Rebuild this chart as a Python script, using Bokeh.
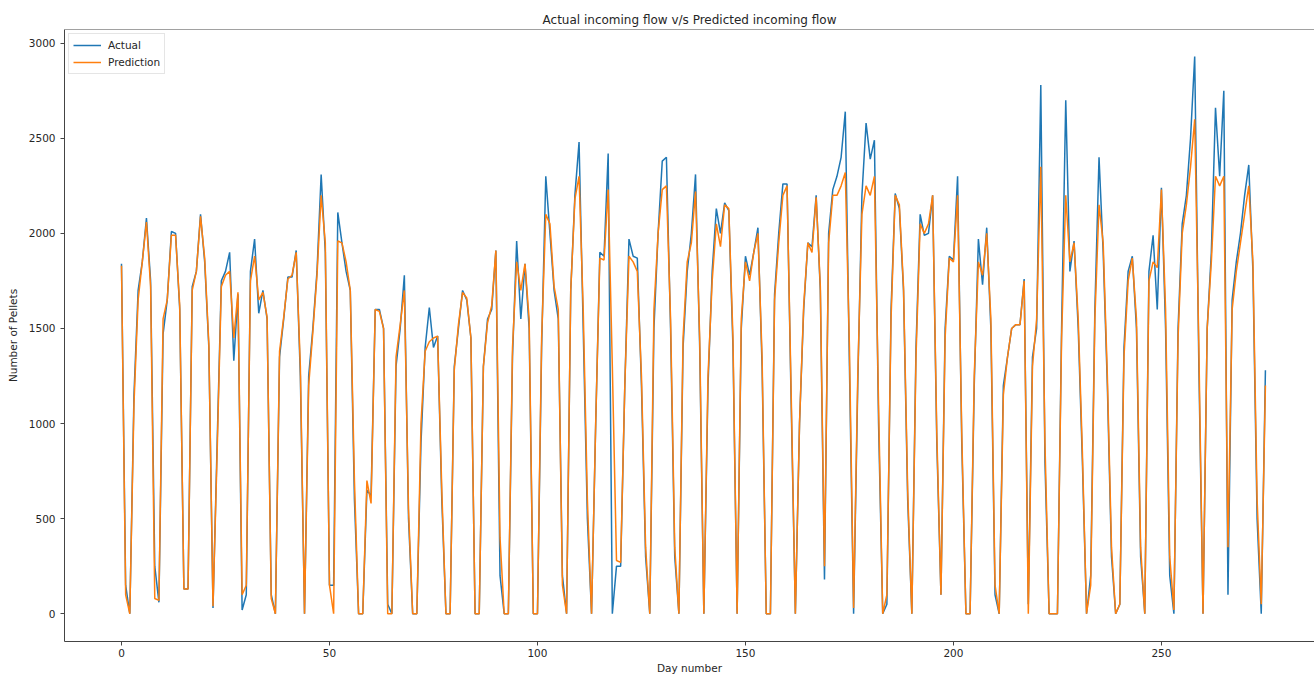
from bokeh.plotting import figure
from bokeh.models import ColumnDataSource, Range1d, FixedTicker, Legend, LegendItem, Span
from bokeh.embed import file_html
from bokeh.resources import INLINE

# Day-by-day values (days 0..275)
actual = [
    1840, 150, 0, 1150, 1700, 1850, 2080, 1750, 250, 60,
    1470, 1650, 2010, 2000, 1600, 130, 130, 1720, 1800, 2100,
    1850, 1400, 30, 900, 1750, 1800, 1900, 1330, 1680, 20,
    100, 1800, 1970, 1580, 1700, 1550, 100, 0, 1350, 1550,
    1770, 1770, 1910, 1250, 0, 1250, 1500, 1800, 2310, 1900,
    150, 150, 2110, 1950, 1800, 1700, 600, 0, 0, 650,
    620, 1600, 1600, 1500, 50, 0, 1300, 1500, 1780, 500,
    0, 0, 900, 1400, 1610, 1400, 1460, 600, 0, 0,
    1300, 1500, 1700, 1650, 1450, 0, 0, 1300, 1550, 1600,
    1910, 200, 0, 0, 1350, 1960, 1550, 1840, 1500, 0,
    0, 1400, 2300, 2000, 1700, 1550, 200, 0, 1700, 2200,
    2480, 1500, 500, 0, 1000, 1900, 1880, 2420, 0, 250,
    250, 1200, 1970, 1880, 1870, 1200, 300, 0, 1500, 2000,
    2380, 2400, 1500, 300, 0, 1400, 1800, 2000, 2310, 1400,
    0, 1200, 1800, 2130, 2000, 2160, 2120, 1400, 0, 1500,
    1880, 1780, 1900, 2030, 1300, 0, 0, 1680, 2000, 2260,
    2260, 1100, 0, 1000, 1600, 1950, 1930, 2200, 1700, 180,
    2000, 2230, 2300, 2400, 2640, 1300, 0, 1200, 2200, 2580,
    2390, 2490, 1000, 0, 50, 1600, 2210, 2130, 1700, 600,
    0, 1400, 2100, 1990, 2000, 2200, 900, 100, 1500, 1880,
    1860, 2300, 900, 0, 0, 1200, 1970, 1730, 2030, 1500,
    100, 0, 1200, 1350, 1500, 1520, 1520, 1760, 50, 1350,
    1500, 2780, 800, 0, 0, 0, 1500, 2700, 1800, 1960,
    1500, 800, 0, 200, 1600, 2400, 1900, 1200, 300, 0,
    50, 1400, 1800, 1880, 1500, 300, 0, 1800, 1990, 1600,
    2240, 1500, 200, 0, 1500, 2050, 2200, 2500, 2930, 1300,
    0, 1500, 1900, 2660, 2300, 2750, 100, 1650, 1850, 2000,
    2200, 2360, 1800, 500, 0, 1280,
]

prediction = [
    1830, 100, 0, 1100, 1650, 1850, 2060, 1720, 80, 70,
    1550, 1650, 1990, 1990, 1620, 130, 130, 1700, 1800, 2090,
    1870, 1420, 40, 850, 1720, 1780, 1800, 1450, 1690, 100,
    150, 1750, 1880, 1650, 1690, 1560, 80, 0, 1380, 1560,
    1760, 1780, 1900, 1300, 0, 1200, 1480, 1780, 2200, 1950,
    150, 0, 1960, 1950, 1850, 1700, 700, 0, 0, 700,
    580, 1600, 1590, 1500, 0, 0, 1350, 1520, 1700, 550,
    0, 0, 1000, 1380, 1430, 1450, 1460, 650, 0, 0,
    1280, 1520, 1690, 1660, 1450, 0, 0, 1300, 1530, 1620,
    1910, 400, 0, 0, 1400, 1850, 1700, 1840, 1550, 0,
    0, 1450, 2100, 2050, 1720, 1600, 150, 0, 1700, 2180,
    2300, 1600, 600, 0, 1000, 1870, 1860, 2230, 1300, 280,
    270, 1200, 1880, 1850, 1800, 1250, 350, 0, 1600, 2000,
    2230, 2250, 1550, 350, 0, 1450, 1850, 1950, 2220, 1450,
    0, 1250, 1750, 2050, 1930, 2150, 2130, 1450, 0, 1550,
    1850, 1750, 1900, 2000, 1350, 0, 0, 1650, 1950, 2200,
    2250, 1150, 0, 1000, 1620, 1950, 1900, 2190, 1720, 250,
    1950, 2200, 2200, 2250, 2320, 1400, 30, 1250, 2100, 2250,
    2200, 2300, 1100, 0, 100, 1550, 2200, 2150, 1720, 650,
    0, 1350, 2050, 2000, 2050, 2200, 950, 100, 1450, 1870,
    1850, 2200, 950, 0, 0, 1250, 1850, 1780, 2000, 1550,
    150, 0, 1150, 1350, 1500, 1520, 1520, 1750, 0, 1300,
    1550, 2350, 900, 0, 0, 0, 1450, 2200, 1850, 1950,
    1550, 850, 0, 150, 1550, 2150, 1950, 1250, 350, 0,
    50, 1350, 1750, 1870, 1550, 350, 0, 1750, 1850, 1820,
    2230, 1600, 300, 20, 1450, 2000, 2150, 2350, 2600, 1400,
    0, 1500, 1850, 2300, 2250, 2300, 350, 1600, 1800, 1950,
    2100, 2250, 1850, 600, 50, 1200,
]

days = list(range(len(actual)))
x_ticks = [0, 50, 100, 150, 200, 250]
y_ticks = [0, 500, 1000, 1500, 2000, 2500, 3000]
y_top = 3072

source = ColumnDataSource(data=dict(day=days, actual=actual, prediction=prediction))

FONT = "DejaVu Sans"
TXT = "#262626"
EDGE = "#444444"

p = figure(
    width=1314, height=676,
    output_backend="svg", toolbar_location=None,
    x_range=Range1d(-13.7, 286.8), y_range=Range1d(-146, y_top),
    title="Actual incoming flow v/s Predicted incoming flow",
    min_border_left=64, min_border_right=0, min_border_top=29, min_border_bottom=34,
)
p.background_fill_color = "white"
p.border_fill_color = "white"
p.outline_line_color = None
p.xgrid.visible = False
p.ygrid.visible = False

# top spine only (the right spine is cut off in the reference)
p.add_layout(Span(location=y_top, dimension="width", line_color=EDGE, line_width=1))

p.title.align = "center"
p.title.offset = 5
p.title.text_font = FONT
p.title.text_font_size = "12px"
p.title.text_font_style = "normal"
p.title.text_color = TXT
p.title.standoff = 5

p.xaxis.ticker = FixedTicker(ticks=x_ticks)
p.yaxis.ticker = FixedTicker(ticks=y_ticks)
p.xaxis.axis_label = "Day number"
p.yaxis.axis_label = "Number of Pellets"
for ax in (p.xaxis[0], p.yaxis[0]):
    ax.major_tick_in = 0
    ax.major_tick_out = 4
    ax.minor_tick_in = 0
    ax.minor_tick_out = 0
    ax.major_tick_line_color = EDGE
    ax.axis_line_color = EDGE
    ax.major_label_text_font = FONT
    ax.major_label_text_font_size = "10.5px"
    ax.major_label_text_color = TXT
    ax.axis_label_text_font = FONT
    ax.axis_label_text_font_size = "10.5px"
    ax.axis_label_text_font_style = "normal"
    ax.axis_label_text_color = TXT
p.xaxis.major_label_standoff = 3
p.xaxis.axis_label_standoff = 2
p.yaxis.major_label_standoff = 5
p.yaxis.axis_label_standoff = 7

r_act = p.line("day", "actual", source=source, line_color="#1f77b4", line_width=1.5)
r_pred = p.line("day", "prediction", source=source, line_color="#ff7f0e", line_width=1.5)

legend = Legend(
    items=[LegendItem(label="Actual", renderers=[r_act]),
           LegendItem(label="Prediction", renderers=[r_pred])],
    location="top_left",
)
legend.margin = 4
legend.padding = 4
legend.spacing = 3
legend.glyph_width = 28
legend.glyph_height = 14
legend.label_height = 14
legend.label_standoff = 7
legend.label_text_font = FONT
legend.label_text_font_size = "10.5px"
legend.label_text_color = TXT
legend.border_line_color = "#cccccc"
legend.border_line_width = 1
legend.background_fill_color = "white"
legend.background_fill_alpha = 0.8
p.add_layout(legend)

open("out.html", "w").write(file_html(p, INLINE))
